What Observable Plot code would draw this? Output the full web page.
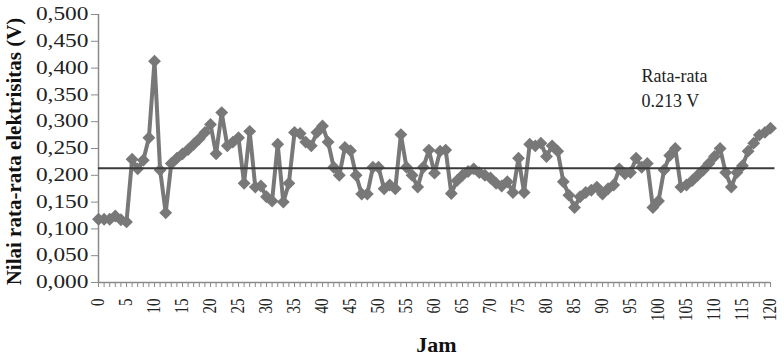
<!DOCTYPE html>
<html>
<head>
<meta charset="utf-8">
<script src="https://cdn.jsdelivr.net/npm/d3@7"></script>
<script src="https://cdn.jsdelivr.net/npm/@observablehq/plot@0.6"></script>
<style>
  html, body { margin: 0; padding: 0; background: #ffffff; }
  #chart { width: 784px; height: 356px; }
</style>
</head>
<body>
<div id="chart"></div>
<script>
// Hourly average electricity readings (V), hours 0..120
const hours = d3.range(0, 121);
const values = [
  0.118, 0.118, 0.118, 0.124, 0.117, 0.113,
  0.230, 0.212, 0.228, 0.270, 0.413, 0.210, 0.130,
  0.222, 0.232, 0.240, 0.248, 0.258, 0.268, 0.280, 0.295,
  0.240, 0.317, 0.255, 0.262, 0.270, 0.185, 0.282, 0.178,
  0.180, 0.160, 0.152, 0.258, 0.150, 0.185, 0.280, 0.278, 0.262, 0.255, 0.280, 0.292, 0.262,
  0.215, 0.200, 0.252, 0.246, 0.200, 0.165,
  0.165, 0.215, 0.215, 0.175, 0.182, 0.175, 0.276, 0.215, 0.200, 0.178,
  0.215, 0.247, 0.204, 0.245, 0.247, 0.166, 0.190, 0.200, 0.207, 0.212, 0.205, 0.200, 0.195, 0.185, 0.180, 0.188,
  0.168, 0.232, 0.168, 0.258, 0.255, 0.260, 0.235, 0.255, 0.245, 0.188,
  0.163, 0.140, 0.160, 0.168, 0.172, 0.178, 0.165, 0.175, 0.182, 0.212,
  0.203, 0.205, 0.232, 0.215, 0.222,
  0.140, 0.152, 0.210, 0.237, 0.250, 0.178, 0.182, 0.190, 0.200, 0.210,
  0.222, 0.235, 0.250, 0.205, 0.178, 0.205, 0.218, 0.245, 0.260, 0.275,
  0.280, 0.288
];

// Overall average and its note
const meanValue = 0.213;
const noteTitle = "Rata-rata";
const noteValue = `${meanValue} V`;

// Axis ticks and titles
const yTicks = [0, 0.05, 0.1, 0.15, 0.2, 0.25, 0.3, 0.35, 0.4, 0.45, 0.5];
const xLabelTicks = d3.range(0, 121, 5);
const xTitle = "Jam";
const yTitle = "Nilai rata-rata elektrisitas (V)";

const points = hours.map((h, i) => ({hour: h, value: values[i]}));

const serif = "'Liberation Serif', 'Times New Roman', serif";
const seriesColor = "#787878";
const axisColor = "#8a8a8a";

const chart = Plot.plot({
  width: 784,
  height: 356,
  marginLeft: 98,
  marginRight: 14,
  marginTop: 14,
  marginBottom: 74,
  style: {fontFamily: serif, background: "#ffffff", color: "#222"},
  x: {domain: [0, 120]},
  y: {domain: [0, 0.5]},
  marks: [
    Plot.ruleX([0], {stroke: axisColor, strokeWidth: 1.5}),
    Plot.ruleY([0], {stroke: axisColor, strokeWidth: 1.5}),
    Plot.axisY({
      ticks: yTicks, tickSize: 7, tickPadding: 3, stroke: axisColor,
      tickFormat: d => d.toFixed(3).replace(".", ","),
      fontSize: 18, label: null
    }),
    Plot.axisX({
      ticks: hours, tickSize: 5, stroke: axisColor,
      tickFormat: () => "", label: null
    }),
    Plot.axisX({
      ticks: xLabelTicks, tickSize: 0, tickPadding: 16, tickRotate: -90,
      fontSize: 15, label: null
    }),
    Plot.line(points, {x: "hour", y: "value", stroke: seriesColor, strokeWidth: 4}),
    Plot.dot(points, {x: "hour", y: "value", symbol: "diamond2", r: 5.8, fill: seriesColor}),
    Plot.ruleY([meanValue], {x1: 0, x2: 120.8, stroke: "#3a3a3a", strokeWidth: 2}),
    Plot.text([noteTitle], {
      ariaLabel: "mean note", frameAnchor: "top-right", textAnchor: "start",
      lineAnchor: "bottom", dx: -129, dy: 67, fontSize: 18, fill: "#222"
    }),
    Plot.text([noteValue], {
      ariaLabel: "mean note", frameAnchor: "top-right", textAnchor: "start",
      lineAnchor: "bottom", dx: -129, dy: 92, fontSize: 18, fill: "#222"
    }),
    Plot.text([xTitle], {
      frameAnchor: "bottom", lineAnchor: "bottom", dx: 2, dy: 69,
      fontSize: 22, fontWeight: "bold", fill: "#111"
    }),
    Plot.text([yTitle], {
      ariaLabel: "y title", frameAnchor: "left", textAnchor: "middle", lineAnchor: "middle",
      rotate: -90, dx: -84, dy: 3,
      fontSize: 21, fontWeight: "bold", fill: "#111"
    })
  ]
});

// The printed tick labels and note are set in a horizontally widened face
function widen(selector, sx, sy) {
  d3.select(chart).selectAll(selector).each(function () {
    const t = this.getAttribute("transform") || "";
    this.setAttribute("transform", `${t} scale(${sx},${sy})`);
  });
}
widen('g[aria-label="y-axis tick label"] text', 1.3, 1);
widen('g[aria-label="x-axis tick label"] text', 1, 1.2);
widen('g[aria-label="mean note"] text', 1.28, 1);

document.getElementById("chart").appendChild(chart);
</script>
</body>
</html>
